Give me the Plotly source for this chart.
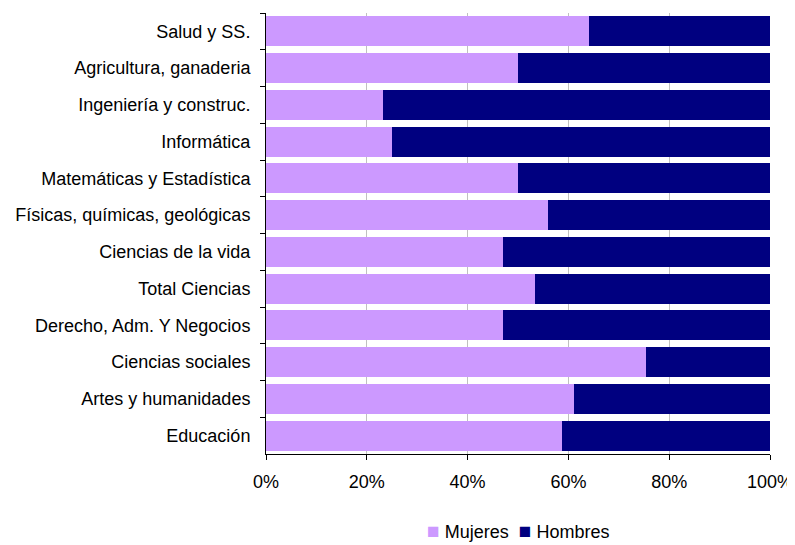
import plotly.graph_objects as go

categories = [
    "Salud y SS.",
    "Agricultura, ganaderia",
    "Ingeniería y construc.",
    "Informática",
    "Matemáticas y Estadística",
    "Físicas, químicas, geológicas",
    "Ciencias de la vida",
    "Total Ciencias",
    "Derecho, Adm. Y Negocios",
    "Ciencias sociales",
    "Artes y humanidades",
    "Educación",
]
mujeres = [64.0, 49.9, 23.2, 25.0, 49.9, 56.0, 47.1, 53.3, 47.1, 75.3, 61.2, 58.8]
hombres = [36.0, 50.1, 76.8, 75.0, 50.1, 44.0, 52.9, 46.7, 52.9, 24.7, 38.8, 41.2]
series_names = ["Mujeres", "Hombres"]
series_colors = ["#CC99FF", "#000080"]
x_ticks = [0, 20, 40, 60, 80, 100]
x_ticklabels = ["0%", "20%", "40%", "60%", "80%", "100%"]

FONT = "Liberation Sans, Arial, sans-serif"

fig = go.Figure()
for name, vals, col in zip(series_names, [mujeres, hombres], series_colors):
    fig.add_trace(go.Bar(y=categories, x=vals, name=name, orientation="h",
                         marker=dict(color=col, line=dict(width=0))))

legend_text = "  ".join(
    f"<span style='color:{c};font-size:21px'>■</span> {n}"
    for n, c in zip(series_names, series_colors)
)

# the page adds an 8px body margin, so the figure is sized/offset to compensate
fig.update_layout(
    barmode="stack",
    bargap=0.18,
    width=787, height=537,
    margin=dict(l=258, r=25, t=5, b=91, pad=0),
    paper_bgcolor="white", plot_bgcolor="white",
    font=dict(family=FONT, size=18, color="black"),
    showlegend=False,
    annotations=[dict(text=legend_text, xref="paper", yref="paper",
                      x=0.5, y=-0.203, xanchor="center", yanchor="bottom",
                      showarrow=False, font=dict(size=18, color="black"))],
    xaxis=dict(range=[0, 100], tickvals=x_ticks, ticktext=x_ticklabels,
               showgrid=True, gridcolor="#C0C0C0", gridwidth=1,
               showline=True, linecolor="black", linewidth=1,
               ticks="outside", ticklen=5, tickcolor="black",
               zeroline=False, ticklabelstandoff=6, automargin=False,
               tickfont=dict(size=18)),
    yaxis=dict(categoryorder="array", categoryarray=categories, autorange="reversed",
               showline=True, linecolor="black", linewidth=1,
               ticks="outside", ticklen=5, tickcolor="black", tickson="boundaries",
               showgrid=False, ticklabelstandoff=11, automargin=False,
               tickfont=dict(size=18)),
)

fig.write_html("out.html")
